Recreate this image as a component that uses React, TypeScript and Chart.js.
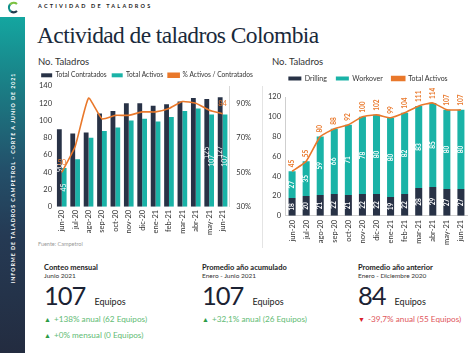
import React, { useEffect, useRef } from "react";
import { Chart, registerables } from "chart.js";

Chart.register(...registerables);

const months = ["jun-20", "jul-20", "ago-20", "sep-20", "oct-20", "nov-20", "dic-20", "ene-21", "feb-21", "mar-21", "abr-21", "may-21", "jun-21"];
const totalContratados = [90, 85, 86, 108, 111, 120, 120, 117, 119, 122, 126, 125, 127];
const totalActivos = [45, 55, 80, 88, 92, 100, 102, 99, 104, 111, 114, 107, 107];
const pctActivos = [50, 65, 93, 81, 83, 83, 85, 85, 87, 91, 90, 86, 84];
const drilling = [18, 20, 21, 22, 21, 22, 22, 19, 22, 28, 29, 27, 27];
const workover = [27, 35, 59, 66, 71, 78, 80, 80, 82, 83, 85, 80, 80];
const pctTicks = [30, 50, 70, 90];
const leftLabelIdx = [0, 11, 12];
const pctLabelIdx = [0, 12];

const DARK = "#283246";
const TEAL = "#1ab3a7";
const ORANGE = "#e9782b";
const FONT = "Lato, 'Open Sans', sans-serif";

const valueLabels = {
  id: "valueLabels",
  afterDatasetsDraw(chart: any) {
    const ctx = chart.ctx;
    chart.data.datasets.forEach((ds: any, di: number) => {
      const cfg = ds.valueLabels;
      if (!cfg) return;
      const meta = chart.getDatasetMeta(di);
      meta.data.forEach((el: any, i: number) => {
        if (cfg.indices && !cfg.indices.includes(i)) return;
        const v = ds.data[i];
        const text = String(v) + (cfg.suffix || "");
        ctx.save();
        ctx.font = cfg.font;
        ctx.fillStyle = cfg.color;
        const y = cfg.pos === "center" ? (el.y + el.base) / 2 : el.y - cfg.offset;
        ctx.translate(el.x + (cfg.dx || 0), y);
        if (cfg.rotate) ctx.rotate(-Math.PI / 2);
        ctx.textAlign = cfg.align || "center";
        ctx.textBaseline = "middle";
        ctx.fillText(text, 0, 0);
        ctx.restore();
      });
    });
  },
};

function legendFit(height: number) {
  return {
    id: "legendFit",
    beforeLayout(chart: any) {
      const lg = chart.legend;
      if (!lg || lg._fitPatched) return;
      const orig = lg.fit;
      lg.fit = function () {
        orig.call(this);
        this.height = height;
      };
      lg._fitPatched = true;
    },
  };
}

const tickFont = { family: FONT, size: 7.5 };
const legendLabels = (pad: number, size: number, box: number) => ({
  boxWidth: box,
  boxHeight: 4,
  padding: pad,
  color: "#333",
  font: { family: FONT, size },
  sort: (a: any, b: any) => a.datasetIndex - b.datasetIndex,
});

function LeftChart() {
  const ref = useRef<HTMLCanvasElement>(null);
  useEffect(() => {
    const chart = new Chart(ref.current as HTMLCanvasElement, {
      type: "bar",
      data: {
        labels: months,
        datasets: [
          {
            label: "Total Contratados",
            data: totalContratados,
            backgroundColor: DARK,
            yAxisID: "y",
            barPercentage: 1,
            categoryPercentage: 0.72,
            valueLabels: { indices: leftLabelIdx, pos: "center", rotate: true, color: "#fff", font: `7px ${FONT}` },
          } as any,
          {
            label: "Total Activos",
            data: totalActivos,
            backgroundColor: TEAL,
            yAxisID: "y",
            barPercentage: 1,
            categoryPercentage: 0.72,
            valueLabels: { indices: leftLabelIdx, pos: "center", rotate: true, color: "#fff", font: `7px ${FONT}` },
          } as any,
          {
            type: "line",
            label: "% Activos / Contratados",
            data: pctActivos,
            borderColor: ORANGE,
            backgroundColor: ORANGE,
            borderWidth: 1.6,
            pointRadius: 0,
            tension: 0.15,
            yAxisID: "y1",
            order: -1,
            valueLabels: { indices: pctLabelIdx, pos: "above", offset: 10, color: ORANGE, font: `7.5px ${FONT}` },
          } as any,
        ],
      },
      options: {
        animation: false,
        responsive: false,
        maintainAspectRatio: false,
        layout: { padding: { left: 0, right: 2, top: 0, bottom: 0 } },
        plugins: {
          legend: { position: "top", labels: legendLabels(5, 6.6, 11) as any },
          tooltip: { enabled: false },
        },
        scales: {
          x: {
            grid: { display: false, drawTicks: false },
            border: { display: false },
            ticks: { minRotation: 90, maxRotation: 90, autoSkip: false, color: "#333", font: tickFont, padding: 3 },
          },
          y: {
            min: 0,
            max: 140,
            grid: { display: false, drawTicks: false },
            border: { display: false },
            ticks: { stepSize: 20, color: "#333", font: tickFont, padding: 3 },
          },
          y1: {
            position: "right",
            min: 30,
            max: 100,
            grid: { display: false, drawTicks: false },
            border: { display: true, color: "#d8d8d8" },
            afterBuildTicks: (axis: any) => {
              axis.ticks = pctTicks.map((v) => ({ value: v }));
            },
            ticks: { color: "#333", font: tickFont, padding: 7, callback: (v: any) => v + "%" },
          },
        },
      },
      plugins: [valueLabels, legendFit(19)],
    });
    return () => chart.destroy();
  }, []);
  return <canvas ref={ref} width={224} height={171} style={{ position: "absolute", left: 36, top: 67, width: 224, height: 171 }} />;
}

function RightChart() {
  const ref = useRef<HTMLCanvasElement>(null);
  useEffect(() => {
    const chart = new Chart(ref.current as HTMLCanvasElement, {
      type: "bar",
      data: {
        labels: months,
        datasets: [
          {
            label: "Drilling",
            data: drilling,
            backgroundColor: DARK,
            stack: "bars",
            barPercentage: 0.5,
            categoryPercentage: 1,
            valueLabels: { pos: "center", rotate: true, color: "#fff", font: `bold 6.5px ${FONT}` },
          } as any,
          {
            label: "Workover",
            data: workover,
            backgroundColor: TEAL,
            stack: "bars",
            barPercentage: 0.5,
            categoryPercentage: 1,
            valueLabels: { pos: "center", rotate: true, color: "#fff", font: `bold 6.5px ${FONT}` },
          } as any,
          {
            type: "line",
            label: "Total Activos",
            data: totalActivos,
            stack: "line",
            borderColor: ORANGE,
            backgroundColor: ORANGE,
            borderWidth: 1.6,
            pointRadius: 0,
            tension: 0.15,
            order: -1,
            valueLabels: { pos: "above", offset: 4, rotate: true, align: "left", color: ORANGE, font: `bold 6.5px ${FONT}` },
          } as any,
        ],
      },
      options: {
        animation: false,
        responsive: false,
        maintainAspectRatio: false,
        layout: { padding: { left: 0, right: 2, top: 0, bottom: 0 } },
        plugins: {
          legend: { position: "top", labels: legendLabels(9, 7, 13) as any },
          tooltip: { enabled: false },
        },
        scales: {
          x: {
            stacked: true,
            grid: { display: false, drawTicks: false },
            border: { display: true, color: "#cfcfcf" },
            ticks: { minRotation: 90, maxRotation: 90, autoSkip: false, color: "#333", font: tickFont, padding: 4 },
          },
          y: {
            stacked: true,
            min: 0,
            max: 120,
            grid: { display: false, drawTicks: false },
            border: { display: true, color: "#cfcfcf" },
            ticks: { stepSize: 20, color: "#333", font: tickFont, padding: 4 },
          },
        },
      },
      plugins: [valueLabels, legendFit(31)],
    });
    return () => chart.destroy();
  }, []);
  return <canvas ref={ref} width={210} height={183} style={{ position: "absolute", left: 264, top: 66, width: 210, height: 183 }} />;
}

function Kpi(props: { left: number; title: string; sub: string; value: string; lines: { up: boolean; text: string }[] }) {
  const { left, title, sub, value, lines } = props;
  return (
    <div style={{ position: "absolute", left, top: 263, width: 150 }}>
      <div style={{ fontSize: 7.5, fontWeight: 700, color: "#222", lineHeight: "9px" }}>{title}</div>
      <div style={{ fontSize: 6.5, color: "#333", lineHeight: "8px" }}>{sub}</div>
      <div style={{ marginTop: 3, height: 28, lineHeight: "25px", whiteSpace: "nowrap" }}>
        <span style={{ fontSize: 25.5, color: "#1b2233", letterSpacing: -1 }}>{value}</span>
        <span style={{ fontSize: 9, color: "#222", marginLeft: 9 }}>Equipos</span>
      </div>
      {lines.map((l, i) => (
        <div key={i} style={{ fontSize: 8.2, lineHeight: "16px", color: l.up ? "#62bb74" : "#e0575c", whiteSpace: "nowrap" }}>
          <span style={{ color: l.up ? "#2c9b45" : "#d8202a", fontSize: 7, marginRight: 3 }}>{l.up ? "▲" : "▼"}</span>
          {l.text}
        </div>
      ))}
    </div>
  );
}

export default function App() {
  return (
    <div style={{ position: "fixed", left: 0, top: 0, width: 474, height: 353, background: "#fff", overflow: "hidden", fontFamily: FONT }}>
      <div
        style={{
          position: "absolute",
          left: 0,
          top: 17,
          width: 25,
          height: 336,
          background: "linear-gradient(to bottom, #14a6a0 0%, #1a7f86 20%, #23506a 45%, #253a54 65%, #232c40 100%)",
        }}
      />
      <div
        style={{
          position: "absolute",
          left: 12.5 - 110,
          top: 178 - 5,
          width: 220,
          height: 10,
          transform: "rotate(-90deg)",
          color: "#fff",
          fontSize: 5.3,
          fontWeight: 700,
          letterSpacing: 0.95,
          lineHeight: "10px",
          textAlign: "center",
          whiteSpace: "nowrap",
        }}
      >
        INFORME DE TALADROS CAMPETROL - CORTE A JUNIO DE 2021
      </div>
      <svg style={{ position: "absolute", left: 7, top: 1 }} width="12" height="13" viewBox="0 0 12 13">
        <path d="M10 3 A5 5 0 0 0 3 3.5" stroke="#7cc242" strokeWidth="2.2" fill="none" />
        <path d="M3 3.5 A5 5 0 0 0 4 10.5" stroke="#0f8f8a" strokeWidth="2.2" fill="none" />
        <path d="M4 10.5 A5 5 0 0 0 10 10" stroke="#1f3b4d" strokeWidth="2.2" fill="none" />
      </svg>
      <div style={{ position: "absolute", left: 38, top: 3, fontSize: 5.5, fontWeight: 700, letterSpacing: 2.2, color: "#222", lineHeight: "7px" }}>
        ACTIVIDAD DE TALADROS
      </div>
      <div
        style={{
          position: "absolute",
          left: 37,
          top: 22,
          fontFamily: "'Liberation Serif', serif",
          fontSize: 23.5,
          color: "#1a2a3b",
          lineHeight: "26px",
          letterSpacing: -0.6,
          whiteSpace: "nowrap",
        }}
      >
        Actividad de taladros Colombia
      </div>
      <div style={{ position: "absolute", left: 38, top: 56, fontSize: 9.5, color: "#333", lineHeight: "11px" }}>No. Taladros</div>
      <div style={{ position: "absolute", left: 272, top: 56, fontSize: 9.5, color: "#333", lineHeight: "11px" }}>No. Taladros</div>
      <div style={{ position: "absolute", left: 262, top: 86, width: 1, height: 162, background: "#e4e4e4" }} />
      <LeftChart />
      <RightChart />
      <div style={{ position: "absolute", left: 38, top: 241, fontSize: 5.5, color: "#999", lineHeight: "7px" }}>Fuente: Campetrol</div>
      <Kpi
        left={44}
        title="Conteo mensual"
        sub="Junio 2021"
        value="107"
        lines={[
          { up: true, text: "+138% anual (62 Equipos)" },
          { up: true, text: "+0% mensual (0 Equipos)" },
        ]}
      />
      <Kpi left={202} title="Promedio año acumulado" sub="Enero - Junio 2021" value="107" lines={[{ up: true, text: "+32,1% anual (26 Equipos)" }]} />
      <Kpi left={358} title="Promedio año anterior" sub="Enero - Diciembre 2020" value="84" lines={[{ up: false, text: "-39,7% anual (55 Equipos)" }]} />
    </div>
  );
}
